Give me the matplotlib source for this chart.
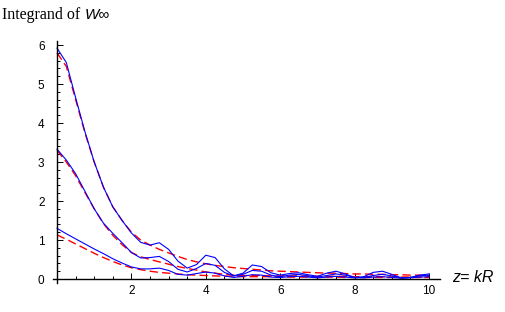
import matplotlib
matplotlib.use("Agg")
import matplotlib.pyplot as plt
import numpy as np

# sample points at steps of 0.25 in z
z = np.arange(0, 10.01, 0.25)

blue_top = [5.92, 5.55, 4.65, 3.78, 3.0, 2.35, 1.85, 1.5, 1.18, 0.94, 0.87,
            0.93, 0.76, 0.46, 0.28, 0.37, 0.61, 0.55, 0.26, 0.08, 0.15,
            0.36, 0.32, 0.16, 0.1, 0.14, 0.16, 0.11, 0.07, 0.15, 0.2,
            0.13, 0.04, 0.06, 0.17, 0.2, 0.12, 0.03, 0.04, 0.1, 0.13]
blue_mid = [3.33, 3.05, 2.7, 2.25, 1.8, 1.43, 1.17, 0.93, 0.68, 0.54, 0.55,
            0.58, 0.45, 0.25, 0.18, 0.27, 0.4, 0.35, 0.17, 0.08, 0.12,
            0.22, 0.2, 0.1, 0.06, 0.1, 0.12, 0.08, 0.05, 0.09, 0.13,
            0.1, 0.04, 0.04, 0.09, 0.12, 0.08, 0.03, 0.04, 0.08, 0.1]
blue_low = [1.3, 1.16, 1.03, 0.9, 0.77, 0.65, 0.52, 0.41, 0.31, 0.26, 0.26,
            0.28, 0.22, 0.12, 0.1, 0.14, 0.18, 0.15, 0.08, 0.04, 0.07,
            0.11, 0.1, 0.05, 0.04, 0.06, 0.07, 0.05, 0.03, 0.05, 0.07,
            0.05, 0.03, 0.03, 0.05, 0.06, 0.04, 0.02, 0.03, 0.05, 0.06]

red_top = [5.8, 5.45, 4.6, 3.75, 3.0, 2.35, 1.85, 1.5, 1.2, 1.0, 0.87,
           0.76, 0.67, 0.58, 0.5, 0.44, 0.39, 0.35, 0.32, 0.29, 0.27,
           0.25, 0.23, 0.21, 0.2, 0.19, 0.18, 0.17, 0.16, 0.15, 0.15,
           0.14, 0.13, 0.13, 0.12, 0.12, 0.11, 0.11, 0.1, 0.1, 0.09]
red_mid = [3.3, 3.0, 2.65, 2.22, 1.8, 1.42, 1.12, 0.88, 0.68, 0.57, 0.5,
           0.44, 0.38, 0.32, 0.27, 0.23, 0.18, 0.15, 0.12, 0.1, 0.09,
           0.09, 0.09, 0.08, 0.08, 0.08, 0.08, 0.07, 0.07, 0.07, 0.07,
           0.07, 0.06, 0.06, 0.06, 0.06, 0.05, 0.05, 0.05, 0.05, 0.05]
red_low = [1.13, 1.02, 0.9, 0.78, 0.66, 0.55, 0.45, 0.36, 0.29, 0.24, 0.2,
           0.17, 0.15, 0.13, 0.11, 0.1, 0.09, 0.08, 0.07, 0.07, 0.06,
           0.06, 0.06, 0.06, 0.05, 0.05, 0.05, 0.05, 0.05, 0.05, 0.05,
           0.04, 0.04, 0.04, 0.04, 0.04, 0.04, 0.04, 0.04, 0.04, 0.04]

y_ticks = [0, 1, 2, 3, 4, 5, 6]
x_ticks = [2, 4, 6, 8, 10]

fig = plt.figure(figsize=(5.05, 3.12), dpi=100)
ax = fig.add_axes([53.3 / 505, (312 - 283.7) / 312, 388.7 / 505, 242.6 / 312])

for ys in (red_top, red_mid, red_low):
    ax.plot(z, ys, color="red", lw=1.0, dashes=(6, 3))
for ys in (blue_top, blue_mid, blue_low):
    ax.plot(z, ys, color="blue", lw=0.8)

ax.set_xlim(-0.1, 10.35)
ax.set_ylim(-0.12, 6.1)

for s in ("top", "right"):
    ax.spines[s].set_visible(False)
ax.spines["left"].set_position(("data", 0))
ax.spines["bottom"].set_position(("data", 0))
ax.spines["left"].set_bounds(-0.1, 6.1)
ax.spines["bottom"].set_bounds(-0.1, 10.3)
ax.spines["left"].set_linewidth(1.0)
ax.spines["bottom"].set_linewidth(1.0)

ax.set_xticks(x_ticks)
ax.set_xticks(np.arange(0.5, 10.3, 0.5), minor=True)
ax.set_yticks(y_ticks)
ax.set_yticks(np.arange(0.2, 6.05, 0.2), minor=True)
ax.tick_params(which="both", direction="in", width=0.7, labelsize=8.5)
ax.tick_params(axis="y", pad=9)
ax.tick_params(axis="x", pad=4)
ax.tick_params(which="major", length=4)
ax.tick_params(which="minor", length=2)
for lab in ax.get_xticklabels() + ax.get_yticklabels():
    lab.set_family("Liberation Sans")

fig.text(2 / 505, 1 - 15 / 312, "Integrand of", family="Liberation Serif",
         fontsize=11.5, va="center", ha="left")
fig.text(85 / 505, 1 - 15 / 312, "W\u221e", family=["Liberation Sans", "DejaVu Sans"],
         style="italic", fontsize=11, va="center", ha="left")
fig.text(452 / 505, 1 - 278 / 312, "z= kR", family="Liberation Sans",
         style="italic", fontsize=11.5, va="center", ha="left")

fig.savefig("out.png", dpi=100)
